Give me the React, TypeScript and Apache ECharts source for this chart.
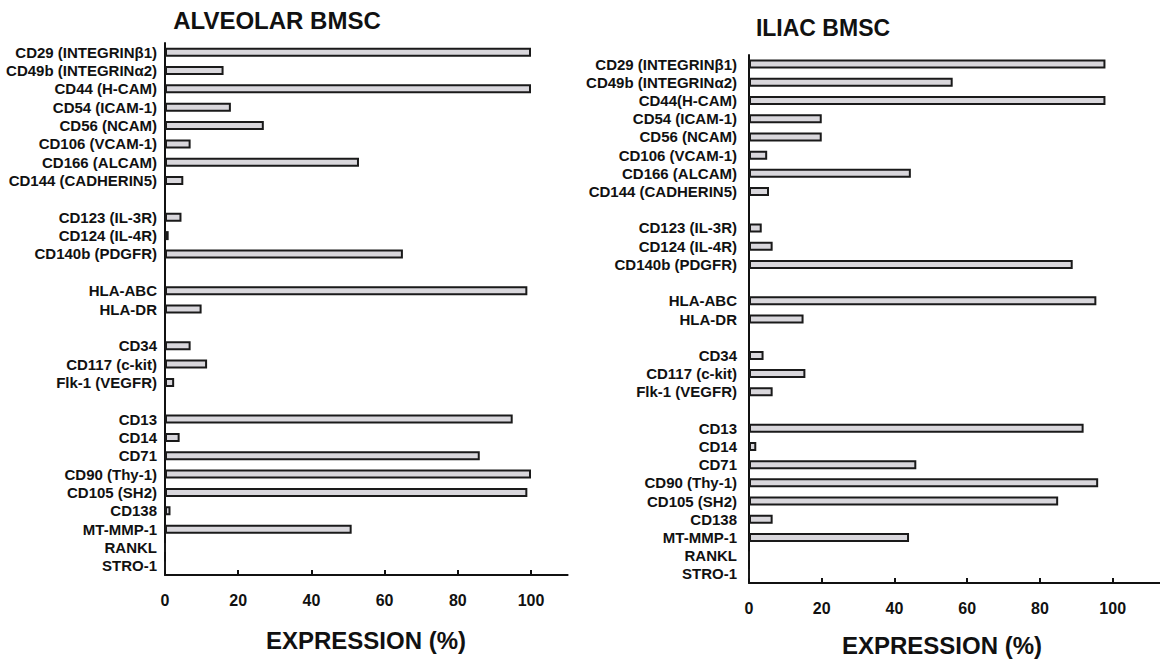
import React, { useEffect, useRef } from "react";
import * as echarts from "echarts";

// ---- Marker groups (category labels) ----
const adhesionLabels = ["CD29 (INTEGRINβ1)", "CD49b (INTEGRINα2)", "CD44 (H-CAM)", "CD54 (ICAM-1)", "CD56 (NCAM)", "CD106 (VCAM-1)", "CD166 (ALCAM)", "CD144 (CADHERIN5)"];
const adhesionLabelsIliac = ["CD29 (INTEGRINβ1)", "CD49b (INTEGRINα2)", "CD44(H-CAM)", "CD54 (ICAM-1)", "CD56 (NCAM)", "CD106 (VCAM-1)", "CD166 (ALCAM)", "CD144 (CADHERIN5)"];
const receptorLabels = ["CD123 (IL-3R)", "CD124 (IL-4R)", "CD140b (PDGFR)"];
const hlaLabels = ["HLA-ABC", "HLA-DR"];
const hematoLabels = ["CD34", "CD117 (c-kit)", "Flk-1 (VEGFR)"];
const otherLabels = ["CD13", "CD14", "CD71", "CD90 (Thy-1)", "CD105 (SH2)", "CD138", "MT-MMP-1", "RANKL", "STRO-1"];

// ---- Alveolar BMSC expression (%) ----
const alveolarAdhesion = [100, 16, 100, 18, 27, 7, 53, 5];
const alveolarReceptor = [4.5, 1, 65];
const alveolarHla = [99, 10];
const alveolarHemato = [7, 11.5, 2.5];
const alveolarOther = [95, 4, 86, 100, 99, 1.5, 51, 0, 0];

// ---- Iliac BMSC expression (%) ----
const iliacAdhesion = [98, 56, 98, 20, 20, 5, 44.5, 5.5];
const iliacReceptor = [3.5, 6.5, 89];
const iliacHla = [95.5, 15];
const iliacHemato = [4, 15.5, 6.5];
const iliacOther = [92, 2, 46, 96, 85, 6.5, 44, 0, 0];

const xTicks = [0, 20, 40, 60, 80, 100];

function withGaps<T>(groups: T[][], gap: T): T[] {
  const out: T[] = [];
  groups.forEach((g, i) => {
    out.push(...g);
    if (i < groups.length - 1) out.push(gap);
  });
  return out;
}

const FONT = "Liberation Sans, Arial, sans-serif";

export default function App() {
  const ref = useRef<HTMLDivElement>(null);
  useEffect(() => {
    if (!ref.current) return;
    const chart = echarts.init(ref.current, undefined, { renderer: "svg" });

    const leftCats = withGaps([adhesionLabels, receptorLabels, hlaLabels, hematoLabels, otherLabels], "");
    const rightCats = withGaps([adhesionLabelsIliac, receptorLabels, hlaLabels, hematoLabels, otherLabels], "");
    const leftVals = withGaps<number | null>([alveolarAdhesion, alveolarReceptor, alveolarHla, alveolarHemato, alveolarOther], null);
    const rightVals = withGaps<number | null>([iliacAdhesion, iliacReceptor, iliacHla, iliacHemato, iliacOther], null);

    const xAxisBase = (gridIndex: number, max: number) => ({
      type: "value",
      gridIndex,
      min: 0,
      max,
      interval: 20,
      axisLine: { show: true, lineStyle: { color: "#111", width: 2 } },
      axisTick: { show: true, inside: true, length: 5, lineStyle: { color: "#111", width: 2 }, customValues: xTicks },
      axisLabel: {
        customValues: xTicks,
        color: "#111",
        fontSize: 16,
        fontWeight: "bold",
        fontFamily: FONT,
        margin: 17,
      },
      splitLine: { show: false },
    });

    const yAxisBase = (gridIndex: number, data: string[], margin: number) => ({
      type: "category",
      gridIndex,
      data,
      inverse: true,
      axisLine: { show: true, lineStyle: { color: "#111", width: 2 } },
      axisTick: { show: false },
      axisLabel: {
        interval: 0,
        color: "#111",
        fontSize: 15,
        fontWeight: "bold",
        fontFamily: FONT,
        margin,
      },
    });

    const barStyle = {
      color: "#d9d7dc",
      borderColor: "#1a1a1a",
      borderWidth: 2,
    };

    chart.setOption({
      animation: false,
      backgroundColor: "#fff",
      grid: [
        { left: 165, top: 43, width: 402.6, height: 532 },
        { left: 749, top: 55, width: 412.5, height: 528 },
      ],
      xAxis: [xAxisBase(0, 110), xAxisBase(1, 113)],
      yAxis: [yAxisBase(0, leftCats, 8), yAxisBase(1, rightCats, 12)],
      series: [
        { type: "bar", name: "ALVEOLAR BMSC", xAxisIndex: 0, yAxisIndex: 0, data: leftVals, barWidth: 9, itemStyle: barStyle },
        { type: "bar", name: "ILIAC BMSC", xAxisIndex: 1, yAxisIndex: 1, data: rightVals, barWidth: 9, itemStyle: barStyle },
      ],
      graphic: [
        { type: "text", x: 277, y: 20, style: { text: "ALVEOLAR BMSC", align: "center", verticalAlign: "middle", font: `bold 24px ${FONT}`, fill: "#111" } },
        { type: "text", x: 823, y: 28, style: { text: "ILIAC BMSC", align: "center", verticalAlign: "middle", font: `bold 23px ${FONT}`, fill: "#111" } },
        { type: "text", x: 366, y: 640, style: { text: "EXPRESSION (%)", align: "center", verticalAlign: "middle", font: `bold 24px ${FONT}`, fill: "#111" } },
        { type: "text", x: 942, y: 645, style: { text: "EXPRESSION (%)", align: "center", verticalAlign: "middle", font: `bold 24px ${FONT}`, fill: "#111" } },
      ],
    });
    return () => chart.dispose();
  }, []);
  return <div ref={ref} style={{ position: "absolute", left: 0, top: 0, width: 1160, height: 662, background: "#fff" }} />;
}
